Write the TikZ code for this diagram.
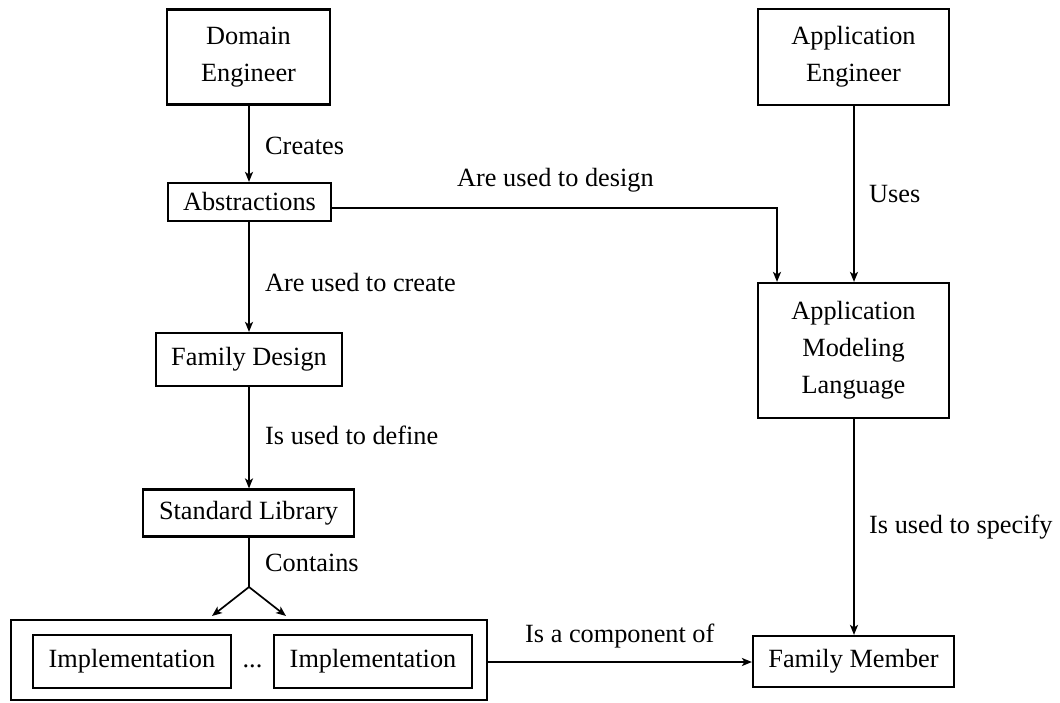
\documentclass[tikz,border=0pt]{standalone}
\usepackage{fontspec}
\setmainfont{Liberation Serif}
\usetikzlibrary{arrows.meta}
\begin{document}
\begin{tikzpicture}[x=1pt,y=1pt,
  every node/.style={font=\fontsize{26.3pt}{37pt}\selectfont},
  box/.style={draw, line width=2.2pt, inner sep=0pt, align=center},
  lbl/.style={anchor=base west, inner sep=0pt},
  conn/.style={line width=1.7pt},
  arr/.style={conn, -{Stealth[length=10pt,width=8pt,inset=2.5pt]}}
]
\useasboundingbox (0,0) rectangle (1060,-703);

% left column
\node[box, minimum width=163, minimum height=95] (de) at (248.5,-57) {Domain\\Engineer};
\node[box, minimum width=163, minimum height=38] (abs) at (249.5,-202) {Abstractions};
\node[box, minimum width=186, minimum height=53] (fd) at (249,-359.5) {Family Design};
\node[box, minimum width=211, minimum height=47] (sl) at (248.5,-513) {Standard Library};
\node[box, minimum width=476, minimum height=80] (impls) at (249,-660) {};
\node[box, minimum width=198, minimum height=53] (im1) at (132,-661.5) {Implementation};
\node[box, minimum width=198, minimum height=53] (im2) at (373,-661.5) {Implementation};
\node[anchor=base, inner sep=0pt] (dots) at (252.5,-667) {...};

% right column
\node[box, minimum width=191, minimum height=96] (ae) at (853.5,-57) {Application\\Engineer};
\node[box, minimum width=191, minimum height=135] (aml) at (853.5,-350.5) {Application\\Modeling\\Language};
\node[box, minimum width=201, minimum height=51] (fm) at (853.5,-661.5) {Family Member};

% connectors
\draw[arr] (de.south -| 249,0) -- (abs.north -| 249,0);
\draw[arr] (abs.south -| 249,0) -- (fd.north -| 249,0);
\draw[arr] (fd.south -| 249,0) -- (sl.north -| 249,0);
\coordinate (br) at (249,-587);
\coordinate (brl) at (212,-616);
\coordinate (brr) at (286,-616);
\draw[conn] (sl.south -| br) -- (br);
\draw[arr] (br) -- (brl);
\draw[arr] (br) -- (brr);

\coordinate (c1) at (777,-208);
\draw[arr] (abs.east |- c1) -- (c1) -- (aml.north -| c1);
\draw[arr] (ae.south -| 854,0) -- (aml.north -| 854,0);
\draw[arr] (aml.south -| 854,0) -- (fm.north -| 854,0);
\draw[arr] (impls.east |- 0,-662) -- (fm.west |- 0,-662);

% labels
\node[lbl] (l1) at (265,-155) {Creates};
\node[lbl] (l2) at (457,-187) {Are used to design};
\node[lbl] (l3) at (869,-203) {Uses};
\node[lbl] (l4) at (265,-291) {Are used to create};
\node[lbl] (l5) at (265,-444) {Is used to define};
\node[lbl] (l6) at (265,-571) {Contains};
\node[lbl] (l7) at (869,-533) {Is used to specify};
\node[lbl] (l8) at (525,-642) {Is a component of};
\end{tikzpicture}
\end{document}
